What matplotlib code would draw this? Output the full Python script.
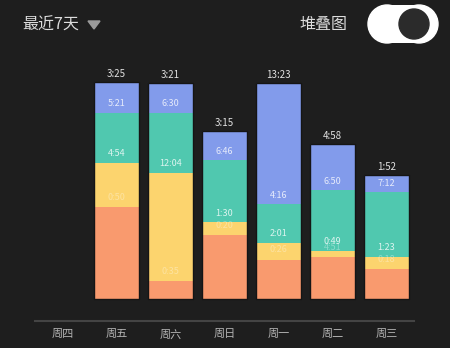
import matplotlib.pyplot as plt
from matplotlib.patches import Rectangle, Circle, Polygon

plt.rcParams['font.family'] = ['Noto Sans CJK SC', 'DejaVu Sans']

# === DATA ===
days = ["周四", "周五", "周六", "周日", "周一", "周二", "周三"]
# stacked segment heights, bottom to top (周四 has no data)
orange = [0, 92, 18, 64, 39, 42, 30]
yellow = [0, 44, 108, 13, 17, 6, 12]
teal   = [0, 50, 60, 62, 39, 61, 65]
blue   = [0, 31, 30, 29, 121, 46, 17]

top_labels    = ["", "3:25", "3:21", "3:15", "13:23", "4:58", "1:52"]
blue_labels   = ["", "5:21", "6:30", "6:46", "4:16", "6:50", "7:12"]
teal_labels   = ["", "4:54", "12:04", "1:30", "2:01", "0:49", "1:23"]
yellow_labels = ["", "0:50", "0:35", "0:20", "0:26", "4:51", "0:18"]

bg = "#1e1e1e"
c_orange, c_yellow, c_teal, c_blue = "#f99a6e", "#fcd46e", "#50c8af", "#829beb"

fig = plt.figure(figsize=(4.5, 3.48), dpi=100, facecolor=bg)
ax = fig.add_axes([35 / 450, 27 / 348, 379 / 450, 261 / 348])
ax.set_facecolor(bg)

x = list(range(len(days)))
w = 0.85
b1 = orange
b2 = [a + b for a, b in zip(b1, yellow)]
b3 = [a + b for a, b in zip(b2, teal)]
tot = [a + b for a, b in zip(b3, blue)]

ax.bar(x, orange, w, color=c_orange, linewidth=0)
ax.bar(x, yellow, w, bottom=b1, color=c_yellow, linewidth=0)
ax.bar(x, teal, w, bottom=b2, color=c_teal, linewidth=0)
ax.bar(x, blue, w, bottom=b3, color=c_blue, linewidth=0)
# thin dark outline round each non-empty stack
xs = [i for i in x if tot[i] > 0]
ax.bar(xs, [tot[i] for i in xs], w, fill=False, edgecolor="#151515", linewidth=1.0)

lab_kw = dict(ha="center", va="center", fontsize=6.5, color="white")
for i in xs:
    ax.text(i, tot[i] + 8, top_labels[i], ha="center", va="center",
            fontsize=7, color="#e2e2e2")
    ax.text(i, b3[i] + 9, blue_labels[i], alpha=0.8, **lab_kw)
    ax.text(i, b2[i] + 9, teal_labels[i], alpha=0.8, **lab_kw)
    ax.text(i, b1[i] + 10, yellow_labels[i], alpha=0.35, **lab_kw)

ax.set_xlim(-0.51, 6.51)
ax.set_ylim(-22, 239)
ax.set_xticks(x)
ax.set_xticklabels(days, fontsize=8, color="#b4b4b4")
ax.tick_params(axis="x", length=0, pad=6)
ax.set_yticks([])
for s in ["top", "right", "left"]:
    ax.spines[s].set_visible(False)
ax.spines["bottom"].set_color("#444444")
ax.spines["bottom"].set_linewidth(1.5)

# header: range selector and stacked toggle, drawn in pixel coords
hd = fig.add_axes([0, 0, 1, 1])
hd.set_xlim(0, 450)
hd.set_ylim(348, 0)
hd.axis("off")
hd.patch.set_alpha(0)
hd.text(22, 25, "最近7天", fontsize=11.5, color="#dddddd", va="center", ha="left")
hd.add_patch(Polygon([[88, 21], [100, 21], [94, 29]], closed=True, color="#9a9a9a"))
hd.text(347, 25, "堆叠图", fontsize=11.5, color="#dddddd", va="center", ha="right")
hd.add_patch(Rectangle((387, 5), 32, 38, color="white", linewidth=0))
hd.add_patch(Circle((387, 24), 19, color="white"))
hd.add_patch(Circle((419, 24), 19, color="white"))
hd.add_patch(Circle((414, 24), 15, color="#2b2b2b"))

fig.savefig("out.png", dpi=100, facecolor=bg)
